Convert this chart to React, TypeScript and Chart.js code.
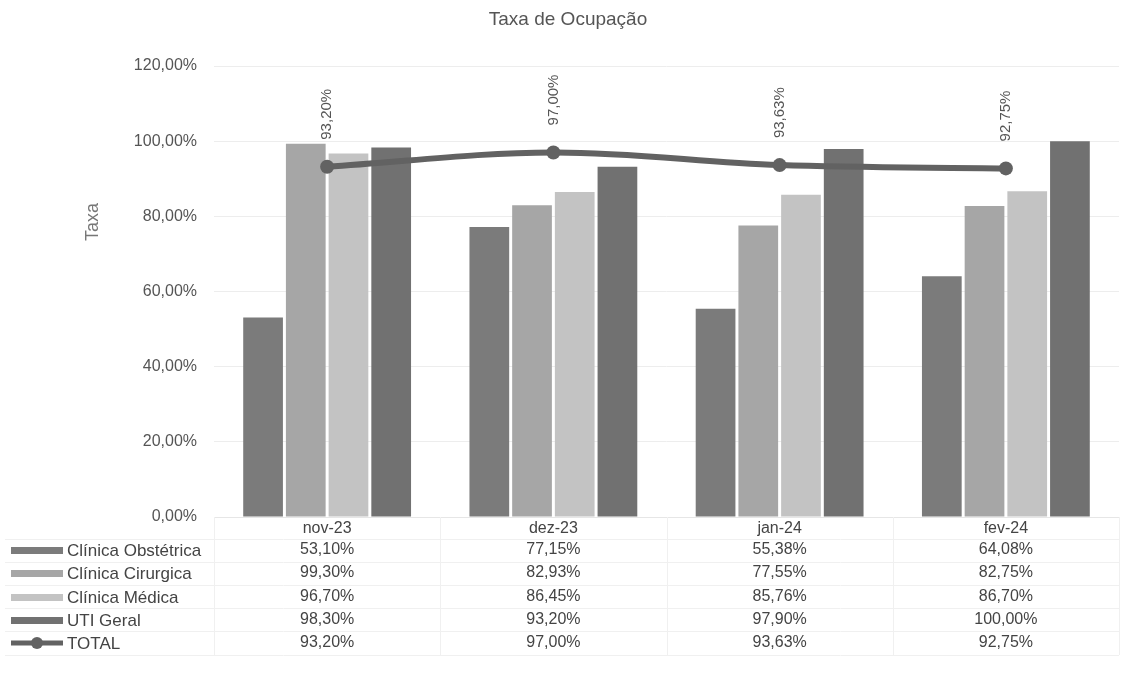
import React, { useEffect, useRef } from "react";
import { Chart, registerables } from "chart.js";
Chart.register(...registerables);

const categories = ["nov-23", "dez-23", "jan-24", "fev-24"];
const obstetrica = [53.1, 77.15, 55.38, 64.08];
const cirurgica = [99.3, 82.93, 77.55, 82.75];
const medica = [96.7, 86.45, 85.76, 86.7];
const uti = [98.3, 93.2, 97.9, 100.0];
const total = [93.2, 97.0, 93.63, 92.75];
const seriesNames = ["Clínica Obstétrica", "Clínica Cirurgica", "Clínica Médica", "UTI Geral", "TOTAL"];
const chartTitle = "Taxa de Ocupação";
const yTitle = "Taxa";

const COLORS = ["#7b7b7b", "#a6a6a6", "#c3c3c3", "#717171"];
const LINE_COLOR = "#626262";
const FONT = "'Liberation Sans', Arial, sans-serif";

const fmt = (v: number) => v.toFixed(2).replace(".", ",") + "%";

export default function App() {
  const ref = useRef<HTMLCanvasElement | null>(null);
  useEffect(() => {
    if (!ref.current) return;
    const barSeries = [obstetrica, cirurgica, medica, uti];
    const allSeries = [obstetrica, cirurgica, medica, uti, total];
    const ROW_Y = [550, 573, 597, 620, 643];

    const overlay = {
      id: "overlay",
      afterDraw(chart: any) {
        const ctx = chart.ctx as CanvasRenderingContext2D;
        const x = chart.scales.x;
        const area = chart.chartArea;
        ctx.save();
        // title
        ctx.fillStyle = "#555";
        ctx.font = `19px ${FONT}`;
        ctx.textAlign = "center";
        ctx.textBaseline = "middle";
        ctx.fillText(chartTitle, 568, 20);
        // y title
        ctx.save();
        ctx.translate(93, 222);
        ctx.rotate(-Math.PI / 2);
        ctx.fillStyle = "#777";
        ctx.font = `18px ${FONT}`;
        ctx.fillText(yTitle, 0, 0);
        ctx.restore();
        // data labels for total
        const meta = chart.getDatasetMeta(4);
        ctx.font = `15px ${FONT}`;
        ctx.fillStyle = "#555";
        meta.data.forEach((pt: any, i: number) => {
          ctx.save();
          ctx.translate(pt.x, pt.y - 27);
          ctx.rotate(-Math.PI / 2);
          ctx.textAlign = "left";
          ctx.textBaseline = "middle";
          ctx.fillText(fmt(total[i]), 0, 0);
          ctx.restore();
        });
        // table grid
        ctx.strokeStyle = "#f0f0f0";
        ctx.lineWidth = 1;
        const catW = (area.right - area.left) / categories.length;
        const lines = [539, 562, 585, 608, 631, 655];
        lines.forEach((ly) => {
          ctx.beginPath();
          ctx.moveTo(5, ly + 0.5);
          ctx.lineTo(area.right, ly + 0.5);
          ctx.stroke();
        });
        for (let i = 0; i <= categories.length; i++) {
          const vx = Math.round(area.left + catW * i) + 0.5;
          ctx.beginPath();
          ctx.moveTo(vx, area.bottom);
          ctx.lineTo(vx, 655);
          ctx.stroke();
        }
        // table values
        ctx.font = `16px ${FONT}`;
        ctx.fillStyle = "#444";
        ctx.textAlign = "center";
        ctx.textBaseline = "middle";
        allSeries.forEach((s, r) => {
          s.forEach((v, c) => {
            ctx.fillText(fmt(v), x.getPixelForValue(c), ROW_Y[r]);
          });
        });
        // legend keys
        ctx.textAlign = "left";
        ctx.font = `17px ${FONT}`;
        seriesNames.forEach((name, r) => {
          const y = ROW_Y[r];
          if (r < 4) {
            ctx.fillStyle = COLORS[r];
            ctx.fillRect(11, y - 3, 52, 7);
          } else {
            ctx.strokeStyle = LINE_COLOR;
            ctx.lineWidth = 5;
            ctx.beginPath();
            ctx.moveTo(11, y);
            ctx.lineTo(63, y);
            ctx.stroke();
            ctx.fillStyle = LINE_COLOR;
            ctx.beginPath();
            ctx.arc(37, y, 6, 0, Math.PI * 2);
            ctx.fill();
          }
          ctx.fillStyle = "#444";
          ctx.fillText(name, 67, y + 1);
        });
        ctx.restore();
      },
    };

    const chart = new Chart(ref.current, {
      type: "bar",
      data: {
        labels: categories,
        datasets: [
          ...barSeries.map((s, i) => ({
            type: "bar" as const,
            label: seriesNames[i],
            data: s,
            backgroundColor: COLORS[i],
            categoryPercentage: 0.755,
            barPercentage: 0.93,
            order: 2,
          })),
          {
            type: "line" as const,
            label: seriesNames[4],
            data: total,
            borderColor: LINE_COLOR,
            backgroundColor: LINE_COLOR,
            borderWidth: 6,
            pointRadius: 7,
            pointBackgroundColor: LINE_COLOR,
            pointBorderWidth: 0,
            tension: 0.35,
            order: 1,
          },
        ],
      },
      options: {
        responsive: false,
        animation: false,
        layout: { padding: { top: 66, right: 8, left: 0, bottom: 0 } },
        plugins: {
          legend: { display: false },
          title: { display: false },
          tooltip: { enabled: false },
        },
        scales: {
          x: {
            grid: { display: false, drawTicks: false },
            border: { display: true, color: "#e6e6e6" },
            ticks: { color: "#444", font: { size: 16, family: FONT }, padding: 2 },
            afterFit: (s: any) => {
              s.height = 166;
            },
          },
          y: {
            min: 0,
            max: 120,
            ticks: {
              stepSize: 20,
              color: "#555",
              font: { size: 16, family: FONT },
              padding: 17,
              callback: (v: any) => fmt(Number(v)),
            },
            grid: { color: "#ededed", drawTicks: false },
            border: { display: false },
            afterFit: (s: any) => {
              s.width = 214;
            },
          },
        },
      },
      plugins: [overlay],
    } as any);
    return () => chart.destroy();
  }, []);
  return (
    <canvas
      ref={ref}
      width={1127}
      height={683}
      style={{ position: "fixed", left: 0, top: 0, width: 1127, height: 683, background: "#fff" }}
    />
  );
}
